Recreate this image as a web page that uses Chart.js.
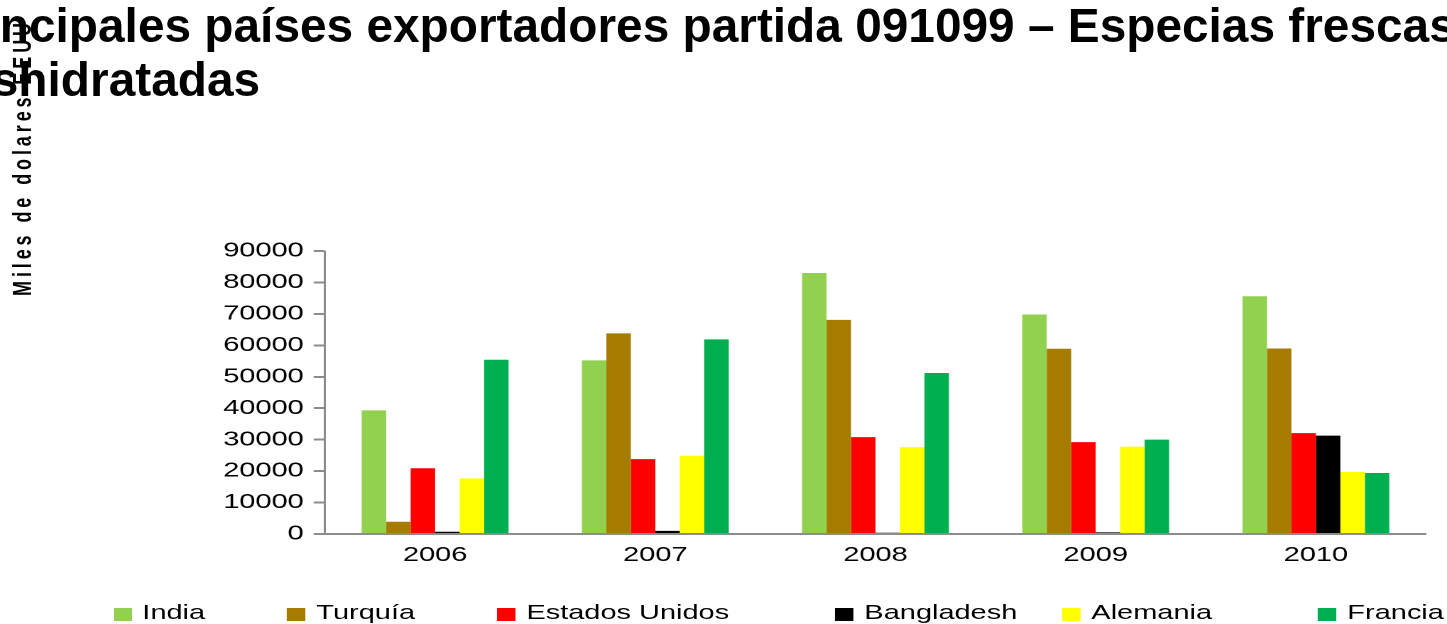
<!DOCTYPE html>
<html>
<head>
<meta charset="utf-8">
<script src="https://cdn.jsdelivr.net/npm/chart.js@4.4.1/dist/chart.umd.min.js"></script>
<style>
  html, body { margin: 0; padding: 0; background: #fff; overflow: hidden; width: 1447px; height: 624px; }
  body { position: relative; font-family: "Liberation Sans", Arial, sans-serif; color: #000; }
  #title { position: absolute; left: -64px; top: -1px; font-weight: bold; font-size: 47.8px; line-height: 54px; white-space: nowrap; }
  /* the whole chart in the picture is stretched sideways */
  #stretch { position: absolute; left: 0; top: 0; width: 1019px; height: 624px; transform: scaleX(1.42); transform-origin: 0 0; }
  #ytitle { position: absolute; left: 0; top: 0; transform-origin: 0 0; transform: translate(6.6px, 296px) rotate(-90deg);
            font-weight: bold; font-size: 18px; line-height: 1; letter-spacing: 3.9px; white-space: nowrap; }
  .item { position: absolute; top: 0; }
  .box { position: absolute; top: 608px; left: 0; width: 13px; height: 13px; }
  .txt { position: absolute; top: 601.7px; left: 20.7px; font-size: 20.4px; line-height: 1; white-space: nowrap; }
</style>
</head>
<body>
<div id="stretch">
  <canvas id="chart" width="1019" height="624"></canvas>
  <div id="ytitle">Miles de dolares EEUU</div>
  <div id="legend"></div>
</div>
<div id="title">Principales países exportadores partida 091099 – Especias frescas o<br>deshidratadas</div>
<script>
const years = ["2006", "2007", "2008", "2009", "2010"];
const seriesNames = ["India", "Turquía", "Estados Unidos", "Bangladesh", "Alemania", "Francia"];

const india      = [39300, 55200, 83000, 69800, 75600];
const turquia    = [3900, 63800, 68100, 58900, 59000];
const eeuu       = [20900, 23800, 30800, 29200, 32100];
const bangladesh = [700, 1000, 400, 500, 31300];
const alemania   = [17700, 24900, 27600, 27800, 19700];
const francia    = [55400, 61900, 51200, 30000, 19400];

const yTickLabels = ["0", "10000", "20000", "30000", "40000", "50000", "60000", "70000", "80000", "90000"];

const seriesValues = [india, turquia, eeuu, bangladesh, alemania, francia];
const seriesColors = ["#92D050", "#A67C00", "#FF0000", "#000000", "#FFFF00", "#00B050"];

// legend box left edges, in screen pixels
const legendLeft = [113, 287, 497, 835, 1062, 1318];
const SX = 1.42;
const FONT = "'Liberation Sans', Arial, sans-serif";

const legend = document.getElementById("legend");
seriesNames.forEach((name, i) => {
  const item = document.createElement("div");
  item.className = "item";
  item.style.left = (legendLeft[i] / SX) + "px";
  item.innerHTML = '<div class="box" style="background:' + seriesColors[i] + '"></div><div class="txt">' + name + '</div>';
  legend.appendChild(item);
});

new Chart(document.getElementById("chart"), {
  type: "bar",
  data: {
    labels: years,
    datasets: seriesValues.map((vals, i) => ({
      label: seriesNames[i],
      data: vals,
      backgroundColor: seriesColors[i],
      borderWidth: 0,
      categoryPercentage: 0.667,
      barPercentage: 1
    }))
  },
  options: {
    responsive: false,
    animation: false,
    devicePixelRatio: 2,
    layout: { padding: { left: 0, top: 251, right: 14.8, bottom: 50 } },
    plugins: { legend: { display: false }, tooltip: { enabled: false } },
    scales: {
      x: {
        grid: { display: false },
        border: { display: true, color: "#8c8c8c", width: 2 },
        ticks: { color: "#000", font: { family: FONT, size: 20.4 }, padding: 1 },
        afterFit: s => { s.height = 40; }
      },
      y: {
        min: 0,
        max: 90000,
        ticks: {
          stepSize: 10000,
          color: "#000",
          font: { family: FONT, size: 20.4 },
          padding: 7,
          callback: (v, i) => yTickLabels[i]
        },
        grid: { display: true, drawOnChartArea: false, drawTicks: true, tickLength: 8, color: "#8c8c8c", lineWidth: 2 },
        border: { display: true, color: "#8c8c8c", width: 1.5 },
        afterFit: s => { s.width = 228.9; }
      }
    }
  }
});
</script>
</body>
</html>
